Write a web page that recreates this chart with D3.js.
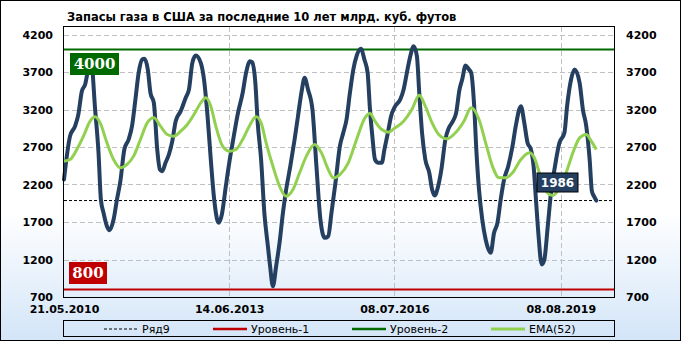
<!DOCTYPE html>
<html>
<head>
<meta charset="utf-8">
<script src="https://cdnjs.cloudflare.com/ajax/libs/d3/7.8.5/d3.min.js"></script>
<style>
  body { margin: 0; background: #fff; }
  svg { display: block; }
  .tick-lbl { font-family: "DejaVu Sans", Verdana, sans-serif; font-size: 11px; font-weight: bold; fill: #000; }
  .legend-lbl { font-family: "DejaVu Sans", Verdana, sans-serif; font-size: 11px; fill: #000; }
</style>
</head>
<body>
<div class="chart"></div>
<script>
/* global d3 */

// weekly gas storage (bcf)
const storageDates = [
  "2010-05-21","2010-07-01","2010-08-04","2010-08-26","2010-09-19","2010-10-11","2010-11-01","2010-11-21",
  "2010-12-18","2011-01-10","2011-01-26","2011-02-13","2011-03-08","2011-03-26","2011-04-22","2011-05-15",
  "2011-06-07","2011-07-04","2011-08-02","2011-08-25","2011-09-17","2011-10-09","2011-11-02","2011-11-17",
  "2011-12-10","2011-12-28","2012-01-20","2012-02-12","2012-03-01","2012-03-17","2012-04-08","2012-05-01",
  "2012-05-24","2012-06-16","2012-07-20","2012-08-23","2012-09-14","2012-10-07","2012-10-30","2012-12-03",
  "2012-12-25","2013-01-18","2013-02-09","2013-03-04","2013-03-27","2013-04-03","2013-04-25","2013-05-22",
  "2013-06-14","2013-07-11","2013-08-10","2013-09-13","2013-10-06","2013-11-02","2013-11-16","2013-12-08",
  "2013-12-24","2014-01-16","2014-02-07","2014-03-03","2014-03-18","2014-04-06","2014-04-28","2014-05-21",
  "2014-06-13","2014-07-05","2014-08-02","2014-08-31","2014-09-23","2014-10-16","2014-11-07","2014-11-30",
  "2014-12-30","2015-01-26","2015-02-22","2015-03-23","2015-04-16","2015-05-08","2015-06-04","2015-07-04",
  "2015-07-27","2015-08-18","2015-09-10","2015-10-03","2015-10-25","2015-11-24","2015-12-17","2016-01-08",
  "2016-01-24","2016-02-09","2016-02-27","2016-03-21","2016-04-13","2016-05-01","2016-05-24","2016-06-15",
  "2016-07-13","2016-08-16","2016-09-08","2016-09-30","2016-10-23","2016-11-15","2016-12-07","2016-12-23",
  "2017-01-11","2017-02-02","2017-03-01","2017-03-20","2017-04-07","2017-04-30","2017-05-22","2017-06-18",
  "2017-07-12","2017-08-08","2017-08-30","2017-09-22","2017-10-10","2017-11-02","2017-11-25","2017-12-10",
  "2017-12-29","2018-01-15","2018-02-01","2018-02-23","2018-03-18","2018-04-21","2018-05-14","2018-06-06",
  "2018-06-28","2018-07-21","2018-08-18","2018-09-16","2018-10-08","2018-11-12","2018-12-05","2018-12-27",
  "2019-01-19","2019-02-06","2019-02-22","2019-03-10","2019-04-02","2019-04-20","2019-05-13","2019-06-04",
  "2019-07-01","2019-07-31","2019-09-03","2019-09-21","2019-10-18","2019-11-11","2019-12-15","2020-01-06",
  "2020-01-29","2020-02-21","2020-03-07","2020-03-21","2020-04-06"
];
const storageValues = [
  2267,2845,2978,3133,3444,3533,3733,3840,
  3200,2622,2000,1822,1644,1591,1733,2000,
  2244,2667,2800,2978,3333,3689,3867,3876,
  3733,3422,3289,2667,2400,2378,2489,2600,
  2778,3044,3178,3356,3467,3822,3920,3822,
  3600,3111,2533,2000,1711,1689,1800,2178,
  2489,2800,3133,3422,3689,3844,3830,3556,
  3022,2533,1822,1378,1111,844,1111,1422,
  1822,2133,2444,2800,3111,3422,3622,3467,
  3200,2444,1733,1489,1511,1822,2222,2711,
  2889,3067,3422,3733,3911,4009,3867,3689,
  3200,2844,2533,2489,2489,2667,2889,3111,
  3244,3333,3467,3689,3911,4044,3911,3422,
  2889,2533,2356,2133,2053,2178,2400,2800,
  2956,3044,3156,3467,3600,3787,3733,3689,
  3289,2622,2133,1733,1467,1289,1556,1689,
  2000,2267,2444,2711,2978,3244,3022,2756,
  2667,2444,2000,1556,1133,1200,1644,2089,
  2444,2756,2889,3244,3600,3733,3556,3200,
  2978,2533,2111,2044,1986
];

// EMA(52)
const emaDates = [
  "2010-05-21","2010-07-01","2010-08-16","2010-09-30","2010-11-14","2010-12-18","2011-01-21","2011-03-08",
  "2011-04-22","2011-06-07","2011-07-22","2011-09-05","2011-10-21","2011-12-06","2012-01-20","2012-03-05",
  "2012-04-20","2012-06-04","2012-07-20","2012-09-03","2012-10-18","2012-12-03","2013-01-06","2013-02-09",
  "2013-03-15","2013-04-30","2013-06-14","2013-07-30","2013-09-13","2013-10-28","2013-12-13","2014-01-16",
  "2014-02-19","2014-04-06","2014-05-21","2014-07-05","2014-08-20","2014-10-04","2014-11-19","2015-01-14",
  "2015-03-01","2015-04-16","2015-05-20","2015-07-04","2015-08-30","2015-10-25","2015-12-21","2016-01-24",
  "2016-02-27","2016-04-13","2016-05-29","2016-07-13","2016-09-08","2016-11-03","2016-12-23","2017-02-02",
  "2017-03-20","2017-05-04","2017-06-30","2017-08-25","2017-10-22","2017-12-10","2018-02-01","2018-03-18",
  "2018-05-03","2018-06-17","2018-08-01","2018-09-16","2018-11-12","2019-01-08","2019-02-11","2019-03-17",
  "2019-05-01","2019-06-16","2019-07-31","2019-09-14","2019-10-30","2019-12-15","2020-01-29","2020-03-03",
  "2020-04-06"
];
const emaValues = [
  2511,2533,2667,2844,3044,3102,3022,2756,
  2533,2422,2467,2578,2800,3022,3089,2978,
  2867,2844,2911,3000,3133,3289,3356,3244,
  2978,2711,2644,2667,2800,2978,3102,3022,
  2756,2444,2178,2044,2133,2356,2578,2733,
  2622,2400,2289,2333,2489,2800,3089,3147,
  3044,2933,2898,2956,3044,3200,3391,3244,
  3022,2867,2809,2889,3044,3222,3067,2756,
  2444,2289,2289,2356,2533,2622,2556,2356,
  2111,2053,2156,2356,2622,2822,2867,2778,
  2667
];

const lastValue = 1986;     // Ряд9
const level1 = 800;         // Уровень-1
const level2 = 4000;        // Уровень-2

const yTicks = [700, 1200, 1700, 2200, 2700, 3200, 3700, 4200];
const xTickDates = ["2010-05-21", "2013-06-14", "2016-07-08", "2019-08-09"];
const xTickLabels = ["21.05.2010", "14.06.2013", "08.07.2016", "08.08.2019"];
const legendNames = ["Ряд9", "Уровень-1", "Уровень-2", "EMA(52)"];

const W = 681, H = 341;
const plot = {left: 64, right: 614, top: 27, bottom: 297};
const parse = d3.timeParse("%Y-%m-%d");

const navy = "#243f60", green = "#006a00", red = "#c00000", ema = "#92d050";

const svg = d3.select(".chart").append("svg")
  .attr("width", W)
  .attr("height", H);

const grad = svg.append("defs").append("linearGradient")
  .attr("id", "bgGrad")
  .attr("x1", 0).attr("y1", 0).attr("x2", 0).attr("y2", 1);
grad.append("stop").attr("offset", "0%").attr("stop-color", "#ffffff");
grad.append("stop").attr("offset", "62%").attr("stop-color", "#ffffff");
grad.append("stop").attr("offset", "100%").attr("stop-color", "#d3e5f8");

svg.append("rect")
  .attr("x", 0.5).attr("y", 0.5)
  .attr("width", W - 1).attr("height", H - 1)
  .attr("fill", "url(#bgGrad)")
  .attr("stroke", "#000");

const x = d3.scaleTime()
  .domain([parse("2010-05-21"), parse("2020-08-04")])
  .range([plot.left, plot.right]);

const y = d3.scaleLinear()
  .domain([700, 4300])
  .range([plot.bottom, plot.top]);

// title
svg.append("text")
  .attr("x", 67)
  .attr("y", 21)
  .attr("font-family", "DejaVu Sans, Verdana, sans-serif")
  .attr("font-size", "11.5px")
  .attr("font-weight", "bold")
  .text("Запасы газа в США за последние 10 лет млрд. куб. футов");

// grid
const grid = svg.append("g");
grid.selectAll(".hg")
  .data(yTicks.slice(1))
  .join("line")
  .attr("x1", plot.left).attr("x2", plot.right)
  .attr("y1", d => Math.round(y(d)) + 0.5)
  .attr("y2", d => Math.round(y(d)) + 0.5)
  .attr("stroke", "#c0c0c0")
  .attr("stroke-dasharray", "5,3");

grid.selectAll(".vg")
  .data(xTickDates.slice(1))
  .join("line")
  .attr("x1", d => Math.round(x(parse(d))) + 0.5)
  .attr("x2", d => Math.round(x(parse(d))) + 0.5)
  .attr("y1", plot.top).attr("y2", plot.bottom)
  .attr("stroke", "#c0c0c0")
  .attr("stroke-dasharray", "5,3");

// axes (labels only)
const fmt = d3.format("d");
const yLeft = d3.axisLeft(y).tickValues(yTicks).tickFormat(fmt).tickSize(0).tickPadding(11);
svg.append("g")
  .attr("transform", `translate(${plot.left},0)`)
  .call(yLeft)
  .call(g => g.select(".domain").remove())
  .call(g => g.selectAll("text").attr("class", "tick-lbl").attr("font-family", null).attr("font-size", null));

const yRight = d3.axisRight(y).tickValues(yTicks).tickFormat(fmt).tickSize(0).tickPadding(12);
svg.append("g")
  .attr("transform", `translate(${plot.right},0)`)
  .call(yRight)
  .call(g => g.select(".domain").remove())
  .call(g => g.selectAll("text").attr("class", "tick-lbl").attr("font-family", null).attr("font-size", null));

const xAxis = d3.axisBottom(x)
  .tickValues(xTickDates.map(parse))
  .tickFormat((d, i) => xTickLabels[i])
  .tickSize(0)
  .tickPadding(8);
svg.append("g")
  .attr("transform", `translate(0,${plot.bottom})`)
  .call(xAxis)
  .call(g => g.select(".domain").remove())
  .call(g => g.selectAll("text").attr("class", "tick-lbl").attr("font-family", null).attr("font-size", null));

// level lines
const levels = svg.append("g");
levels.append("line")
  .attr("x1", plot.left).attr("x2", plot.right)
  .attr("y1", y(lastValue)).attr("y2", y(lastValue))
  .attr("stroke", "#000").attr("stroke-width", 1)
  .attr("stroke-dasharray", "3,2");
levels.append("line")
  .attr("x1", plot.left).attr("x2", plot.right)
  .attr("y1", y(level1)).attr("y2", y(level1))
  .attr("stroke", red).attr("stroke-width", 2.2);
levels.append("line")
  .attr("x1", plot.left).attr("x2", plot.right)
  .attr("y1", y(level2)).attr("y2", y(level2))
  .attr("stroke", green).attr("stroke-width", 2.2);

// series
const storage = storageDates.map((d, i) => ({date: parse(d), value: storageValues[i]}));
const emaData = emaDates.map((d, i) => ({date: parse(d), value: emaValues[i]}));

const line = d3.line()
  .x(d => x(d.date))
  .y(d => y(d.value))
  .curve(d3.curveMonotoneX);

svg.append("path")
  .datum(storage)
  .attr("d", line)
  .attr("fill", "none")
  .attr("stroke", navy)
  .attr("stroke-width", 4)
  .attr("stroke-linejoin", "round")
  .attr("stroke-linecap", "round");

svg.append("path")
  .datum(emaData)
  .attr("d", line)
  .attr("fill", "none")
  .attr("stroke", ema)
  .attr("stroke-width", 3)
  .attr("stroke-linejoin", "round");

// plot frame
svg.append("rect")
  .attr("x", plot.left - 0.5).attr("y", plot.top - 0.5)
  .attr("width", plot.right - plot.left + 1)
  .attr("height", plot.bottom - plot.top + 1)
  .attr("fill", "none")
  .attr("stroke", "#000");

// value boxes
function valueBox(x0, yc, w, h, fill, label, font, size) {
  const g = svg.append("g");
  g.append("rect")
    .attr("x", x0).attr("y", yc - h / 2)
    .attr("width", w).attr("height", h)
    .attr("fill", fill);
  g.append("text")
    .attr("x", x0 + w / 2)
    .attr("y", yc)
    .attr("dy", "0.36em")
    .attr("text-anchor", "middle")
    .attr("font-family", font)
    .attr("font-size", size)
    .attr("font-weight", "bold")
    .attr("fill", "#fff")
    .text(label);
  return g;
}
valueBox(70, 64, 49, 22, green, String(level2), "DejaVu Serif, serif", "15px");
valueBox(69, 273, 38, 22, red, String(level1), "DejaVu Serif, serif", "15px");
valueBox(537, 182.5, 41, 19, navy, String(lastValue), "DejaVu Sans, sans-serif", "12px")
  .select("rect").attr("stroke", "#000").attr("stroke-width", 1);

// legend
const legend = svg.append("g");
legend.append("rect")
  .attr("x", plot.left - 0.5).attr("y", 320.5)
  .attr("width", plot.right - plot.left + 1).attr("height", 16)
  .attr("fill", "none")
  .attr("stroke", "#000");

const legendX = [104, 213, 352, 491];
const legendStyle = [
  {stroke: "#000", width: 1, dash: "3,2"},
  {stroke: red, width: 2.5, dash: null},
  {stroke: green, width: 2.5, dash: null},
  {stroke: ema, width: 3, dash: null}
];
legendNames.forEach((name, i) => {
  legend.append("line")
    .attr("x1", legendX[i]).attr("x2", legendX[i] + 34)
    .attr("y1", 329).attr("y2", 329)
    .attr("stroke", legendStyle[i].stroke)
    .attr("stroke-width", legendStyle[i].width)
    .attr("stroke-dasharray", legendStyle[i].dash);
  legend.append("text")
    .attr("class", "legend-lbl")
    .attr("x", legendX[i] + 38)
    .attr("y", 329)
    .attr("dy", "0.35em")
    .text(name);
});
</script>
</body>
</html>
